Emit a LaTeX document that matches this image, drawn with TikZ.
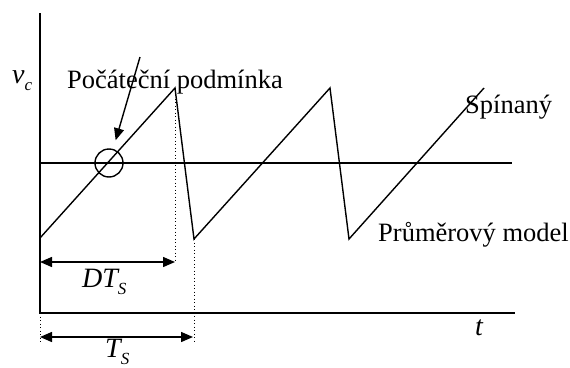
\documentclass[tikz,border=0pt]{standalone}
\usepackage{fontspec}
\setmainfont{Liberation Serif}
\usetikzlibrary{arrows.meta}

\newcommand{\sub}[1]{\raisebox{-7pt}{\fontsize{17}{17}\selectfont\itshape #1}}

\begin{document}
\begin{tikzpicture}[x=1pt,y=-1pt,
  >={Triangle[length=12pt,width=10pt]},
  font=\fontsize{26.5}{30}\selectfont,
  curve/.style={line width=1.4pt,line join=miter},
  span/.style={<->,line width=1.4pt},
  guide/.style={line width=1pt,dash pattern=on 1pt off 2.5pt},
  lbl/.style={inner sep=0pt,anchor=base west},
  sym/.style={lbl,font=\fontsize{28}{30}\selectfont\itshape}]
\useasboundingbox (0,0) rectangle (570,367);

% --- axes and the average level ---
\coordinate (top) at (40,13);
\coordinate (orig) at (40,313);
\coordinate (tend) at (515,313);
\draw[curve] (top) -- (orig) -- (tend);
\coordinate (avgl) at (40,163);
\coordinate (avgr) at (512,163);
\draw[curve] (avgl) -- (avgr);

% --- switched waveform ---
\coordinate (s0) at (40,238);
\coordinate (p1) at (175,88);
\coordinate (v1) at (194,239);
\coordinate (p2) at (330,88);
\coordinate (v2) at (349,239);
\coordinate (p3) at (484,88);
\draw[curve] (s0) -- (p1) -- (v1) -- (p2) -- (v2) -- (p3);

% --- initial condition mark ---
\node[draw,circle,line width=1.4pt,minimum size=28pt,inner sep=0pt] (init) at (109,163) {};
\node[lbl] (cond) at (67,88) {Počáteční podmínka};
\coordinate (condtail) at (140,57);
\draw[->,line width=1.4pt,shorten >=9pt] (condtail) -- (init);

% --- period markers ---
\coordinate (d1) at (175,262);
\coordinate (d0) at (40,262);
\draw[guide] (p1) -- (d1);
\coordinate (t1) at (194,343);
\coordinate (t0) at (40,343);
\coordinate (t0a) at (40,337);
\coordinate (t1a) at (193,337);
\draw[guide] (v1) -- (t1);
\draw[guide] (orig) -- (t0);
\draw[span] (d0) -- (d1);
\draw[span] (t0a) -- (t1a);

% --- labels ---
\node[sym] (vc) at (12,83) {v\sub{c}};
\node[sym] (dts) at (82,287) {DT\sub{S}};
\node[sym] (ts) at (105,357) {T\sub{S}};
\node[sym] (tt) at (475,335) {t};
\node[lbl] (sw) at (465,113) {Spínaný};
\node[lbl] (avg) at (378,241) {Průměrový model};

\end{tikzpicture}
\end{document}
